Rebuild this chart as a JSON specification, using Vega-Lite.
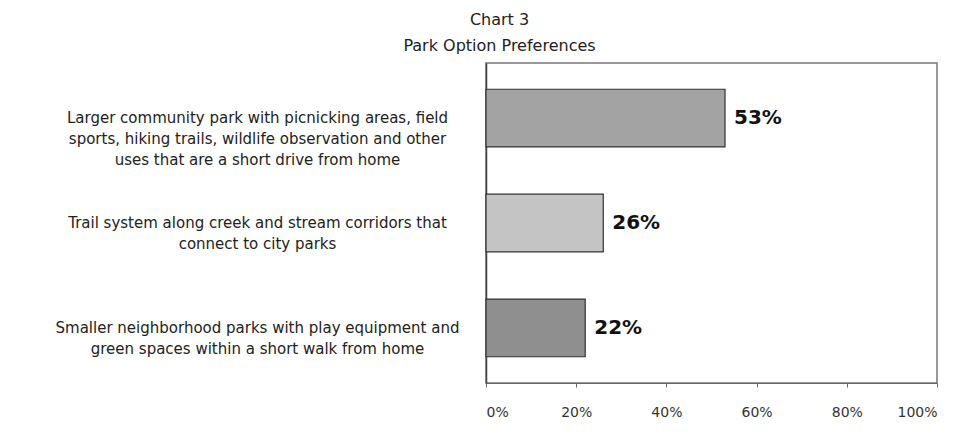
{
  "$schema": "https://vega.github.io/schema/vega-lite/v6.json",
  "autosize": {"type": "none"},
  "width": 451,
  "height": 320,
  "padding": {"left": 486, "top": 63, "right": 21, "bottom": 49},
  "background": "white",
  "title": {
    "text": ["Chart 3", "Park Option Preferences"],
    "anchor": "middle",
    "frame": "group",
    "dx": -212,
    "offset": 9,
    "font": "DejaVu Sans",
    "fontSize": 16,
    "fontWeight": "normal",
    "lineHeight": 26,
    "color": "#222"
  },
  "config": {
    "view": {"stroke": "#777", "strokeWidth": 1.5},
    "font": "DejaVu Sans"
  },
  "data": {
    "values": [
      {"option": "Larger community park with picnicking areas, field|sports, hiking trails, wildlife observation and other|uses that are a short drive from home", "pct": 53, "label": "53%", "grp": "a"},
      {"option": "Trail system along creek and stream corridors that|connect to city parks", "pct": 26, "label": "26%", "grp": "b"},
      {"option": "Smaller neighborhood parks with play equipment and|green spaces within a short walk from home", "pct": 22, "label": "22%", "grp": "c"}
    ]
  },
  "encoding": {
    "y": {
      "field": "option",
      "type": "nominal",
      "sort": null,
      "scale": {"paddingInner": 0.45, "paddingOuter": 0.25},
      "axis": {
        "title": null,
        "ticks": false,
        "domain": true,
        "domainColor": "#444",
        "domainWidth": 1.5,
        "labelExpr": "split(datum.value, '|')",
        "labelAlign": "center",
        "labelBaseline": "middle",
        "labelPadding": 229,
        "labelFontSize": 15,
        "labelLineHeight": 21,
        "labelColor": "#222",
        "labelLimit": 0
      }
    },
    "x": {
      "field": "pct",
      "type": "quantitative",
      "scale": {"domain": [0, 100]},
      "axis": {
        "title": null,
        "values": [0, 20, 40, 60, 80, 100],
        "labelExpr": "datum.value + '%'",
        "grid": false,
        "domainColor": "#666",
        "tickColor": "#666",
        "tickSize": 4,
        "labelPadding": 18,
        "labelFontSize": 14,
        "labelColor": "#333"
      }
    }
  },
  "layer": [
    {
      "mark": {"type": "bar", "stroke": "#333", "strokeWidth": 1.2},
      "encoding": {
        "color": {
          "field": "grp",
          "type": "nominal",
          "scale": {"domain": ["a", "b", "c"], "range": ["#a3a3a3", "#c4c4c4", "#8f8f8f"]},
          "legend": null
        }
      }
    },
    {
      "mark": {"type": "text", "align": "left", "baseline": "middle", "dx": 9, "fontSize": 20, "fontWeight": "bold", "color": "#111"},
      "encoding": {"text": {"field": "label"}}
    }
  ]
}
